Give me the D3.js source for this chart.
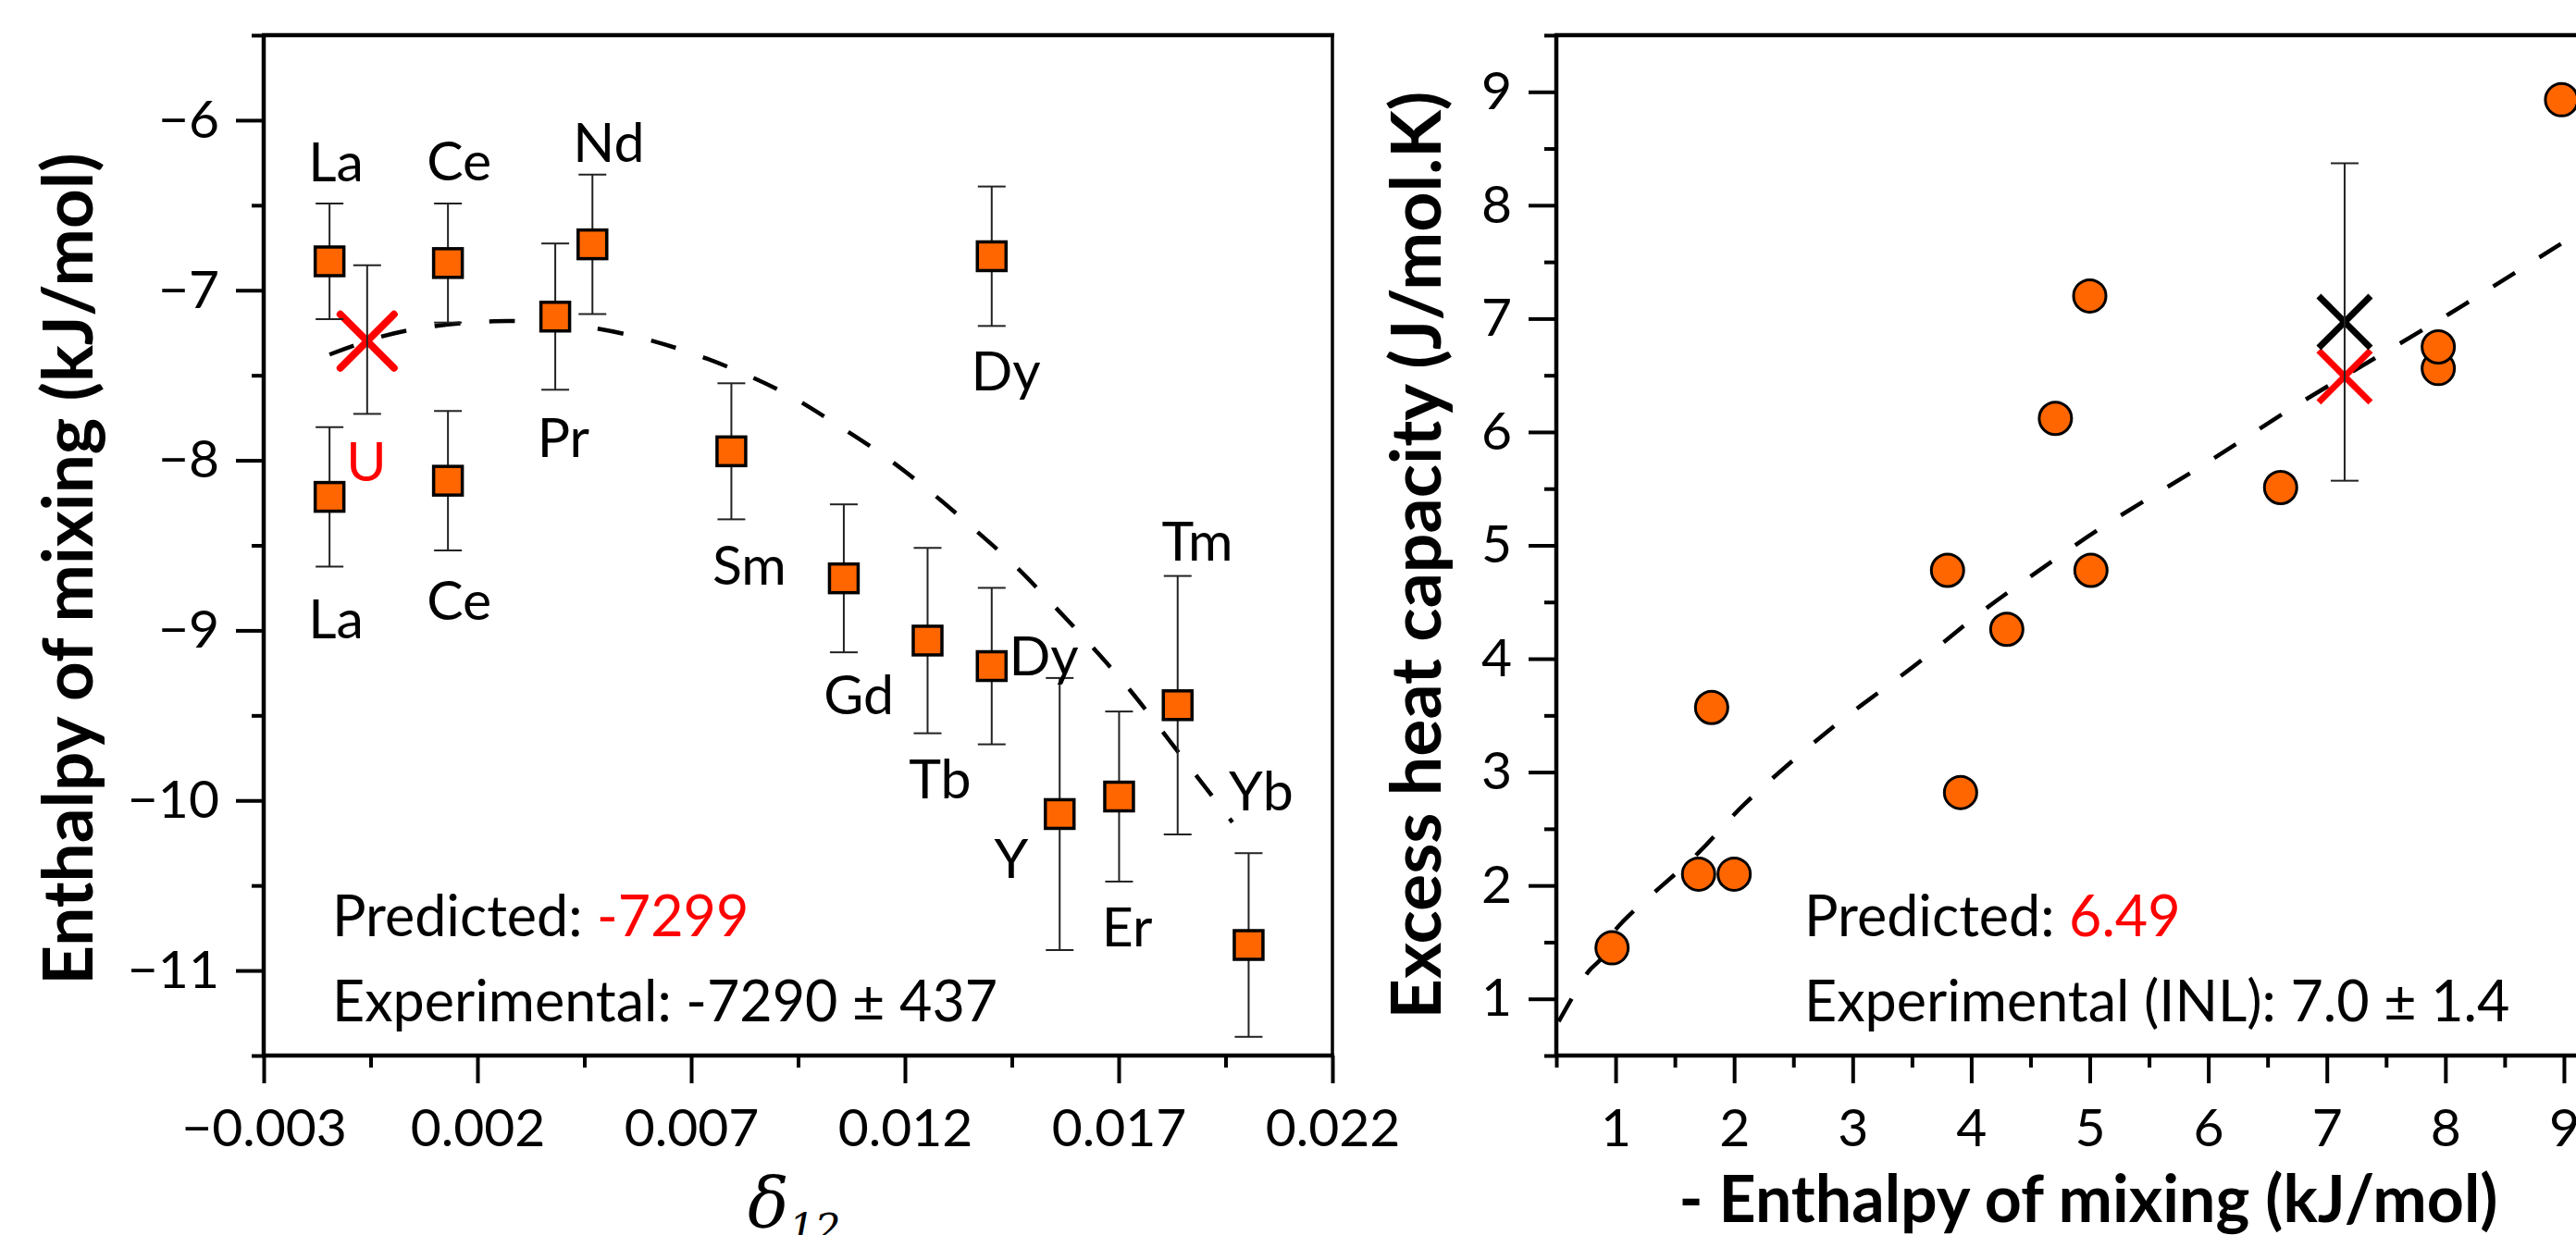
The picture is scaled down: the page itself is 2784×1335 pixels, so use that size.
<!DOCTYPE html>
<html lang="en">
<head>
<meta charset="utf-8">
<style>
  body { margin: 0; background: white; }
  svg { display: block; background: white; font-family: 'Lato', sans-serif; }
  .axis text { font-size: 57px; fill: black; font-family: 'Lato', sans-serif; }
  .axis line { stroke: black; stroke-width: 4; }
  .axis path { display: none; }
  .frame { stroke: black; stroke-width: 4.5; }
  .fit { fill: none; stroke: black; stroke-width: 4.5; stroke-dasharray: 28,31; }
  .err { stroke: #222; stroke-width: 2; }
  .lbl { font-size: 59px; fill: black; }
  .note { font-size: 61px; fill: black; }
  .title { font-weight: bold; fill: black; }
</style>
</head>
<body>
<svg width="2784" height="1335"></svg>
<script src="https://d3js.org/d3.v7.min.js"></script>
<script>
// ---- left panel: enthalpy of mixing vs delta_12 ----
const leftName = ["La","La","Ce","Ce","Pr","Nd","Sm","Gd","Tb","Dy","Dy","Y","Er","Tm","Yb"];
const leftDelta = [-0.00146,-0.00146,0.00131,0.00131,0.00382,0.00469,0.00794,0.01057,0.01253,0.01403,0.01403,0.01562,0.01701,0.01838,0.02004];
const leftEnthalpy = [-6.83,-8.215,-6.84,-8.12,-7.155,-6.73,-7.947,-8.694,-9.06,-6.80,-9.21,-10.08,-9.977,-9.44,-10.85];
const leftError = [0.34,0.41,0.35,0.41,0.43,0.41,0.40,0.435,0.545,0.41,0.46,0.80,0.50,0.76,0.54];
// where each element name sits (data units: delta, enthalpy)
const labelDelta = [-0.00131,-0.00131,0.00157,0.00157,0.00401,0.00507,0.00836,0.01092,0.01282,0.01436,0.01525,0.01449,0.0172,0.01884,0.02033];
const labelEnthalpy = [-6.36,-9.046,-6.354,-8.937,-7.98,-6.245,-8.73,-9.492,-9.987,-7.588,-9.264,-10.455,-10.86,-8.59,-10.06];

const uDelta = -0.00058, uExp = -7.29, uErr = 0.437, uPred = -7.299;
const uLabel = [-0.0006, -8.12];

const leftFitDelta = [-0.00146,-0.00021,0.00105,0.00238,0.00303,0.00423,0.00565,0.00685,0.0081,0.00931,0.01042,0.01152,0.01254,0.01356,0.01455,0.01548,0.01637,0.01724,0.01806,0.01884,0.01966];
const leftFitEnthalpy = [-7.378,-7.27,-7.209,-7.182,-7.182,-7.204,-7.269,-7.356,-7.476,-7.621,-7.792,-7.975,-8.173,-8.391,-8.614,-8.854,-9.094,-9.344,-9.606,-9.862,-10.128];

const leftXMajor = [-0.003,0.002,0.007,0.012,0.017,0.022];
const leftXMinor = [-0.0005,0.0045,0.0095,0.0145,0.0195];
const leftYMajor = [-6,-7,-8,-9,-10,-11];
const leftYMinor = [-5.5,-6.5,-7.5,-8.5,-9.5,-10.5,-11.5];

// ---- right panel: excess heat capacity vs -enthalpy ----
const heatX = [0.97,1.70,2.00,1.81,3.91,3.80,4.30,5.01,4.71,5.00,6.61,7.94,7.94,8.98];
const heatY = [1.45,2.10,2.10,3.57,2.82,4.78,4.26,4.78,6.12,7.20,5.51,6.56,6.75,8.93];
const inlX = 7.15, inlY = 6.97, inlErr = 1.4, predY = 6.49;

const rightFitX = [0.52,0.64,0.77,0.89,0.97,1.70,2.09,2.79,3.56,4.07,4.52,5.09,5.99,6.75,8.03,8.93,9.3];
const rightFitY = [0.80,1.02,1.24,1.37,1.57,2.29,2.72,3.36,3.97,4.40,4.74,5.15,5.73,6.24,7.04,7.63,7.87];

const rightXMajor = [1,2,3,4,5,6,7,8,9];
const rightXMinor = [0.5,1.5,2.5,3.5,4.5,5.5,6.5,7.5,8.5,9.5];
const rightYMajor = [1,2,3,4,5,6,7,8,9];
const rightYMinor = [0.5,1.5,2.5,3.5,4.5,5.5,6.5,7.5,8.5,9.5];

const orange = "#FF6600", red = "#FF0000";
const svg = d3.select("svg");
const plotTop = 38, plotBottom = 1141;

// scales
const xL = d3.scaleLinear().domain([-0.003, 0.022]).range([285, 1440]);
const yL = d3.scaleLinear().domain([-11.5, -5.5]).range([plotBottom, plotTop]);
const xR = d3.scaleLinear().domain([0.5, 9.5]).range([1682, 2835]);
const yR = d3.scaleLinear().domain([0.5, 9.5]).range([plotBottom, plotTop]);

function drawAxes(x, y, xMaj, xMin, yMaj, yMin, xFmt, yFmt) {
  svg.append("g").attr("class", "axis")
    .attr("transform", "translate(0," + plotBottom + ")")
    .call(d3.axisBottom(x).tickValues(xMin).tickSize(13).tickFormat(""));
  svg.append("g").attr("class", "axis")
    .attr("transform", "translate(0," + plotBottom + ")")
    .call(d3.axisBottom(x).tickValues(xMaj).tickSize(30).tickPadding(28).tickFormat(xFmt));
  svg.append("g").attr("class", "axis")
    .attr("transform", "translate(" + x.range()[0] + ",0)")
    .call(d3.axisLeft(y).tickValues(yMin).tickSize(13).tickFormat(""));
  svg.append("g").attr("class", "axis")
    .attr("transform", "translate(" + x.range()[0] + ",0)")
    .call(d3.axisLeft(y).tickValues(yMaj).tickSize(30).tickPadding(18).tickFormat(yFmt));

  const x0 = x.range()[0], x1 = x.range()[1];
  svg.append("line").attr("class", "frame").attr("x1", x0 - 2).attr("x2", x1 + 2).attr("y1", plotTop).attr("y2", plotTop);
  svg.append("line").attr("class", "frame").attr("x1", x0 - 2).attr("x2", x1 + 2).attr("y1", plotBottom).attr("y2", plotBottom);
  svg.append("line").attr("class", "frame").attr("x1", x0).attr("x2", x0).attr("y1", plotTop).attr("y2", plotBottom);
  svg.append("line").attr("class", "frame").style("stroke-width", 3.5)
    .attr("x1", x1).attr("x2", x1).attr("y1", plotTop).attr("y2", plotBottom);
}

drawAxes(xL, yL, leftXMajor, leftXMinor, leftYMajor, leftYMinor, d3.format(".3f"), d3.format("d"));
drawAxes(xR, yR, rightXMajor, rightXMinor, rightYMajor, rightYMinor, d3.format("d"), d3.format("d"));

function cross(g, cx, cy, r, color, w, cap) {
  [[-1, -1, 1, 1], [-1, 1, 1, -1]].forEach(function (s) {
    g.append("line")
      .attr("x1", cx + s[0] * r).attr("y1", cy + s[1] * r)
      .attr("x2", cx + s[2] * r).attr("y2", cy + s[3] * r)
      .attr("stroke", color).attr("stroke-width", w).attr("stroke-linecap", cap);
  });
}

function errBar(g, px, lo, hi) {
  g.append("line").attr("class", "err").attr("x1", px).attr("x2", px).attr("y1", lo).attr("y2", hi);
  [lo, hi].forEach(function (v) {
    g.append("line").attr("class", "err").attr("x1", px - 15).attr("x2", px + 15).attr("y1", v).attr("y2", v);
  });
}

// ---- left panel marks ----
const gl = svg.append("g");
const lineL = d3.line().x(function (d) { return xL(d[0]); }).y(function (d) { return yL(d[1]); }).curve(d3.curveCatmullRom);
gl.append("path").attr("class", "fit").attr("d", lineL(d3.zip(leftFitDelta, leftFitEnthalpy)));

cross(gl, xL(uDelta), yL(uPred), 29, red, 8, "round");
errBar(gl, xL(uDelta), yL(uExp - uErr), yL(uExp + uErr));

leftDelta.forEach(function (d, i) {
  errBar(gl, xL(d), yL(leftEnthalpy[i] - leftError[i]), yL(leftEnthalpy[i] + leftError[i]));
});
gl.selectAll("rect.pt").data(d3.range(leftDelta.length)).join("rect")
  .attr("class", "pt")
  .attr("x", function (i) { return xL(leftDelta[i]) - 15.5; })
  .attr("y", function (i) { return yL(leftEnthalpy[i]) - 15.5; })
  .attr("width", 31).attr("height", 31)
  .attr("fill", orange).attr("stroke", "black").attr("stroke-width", 3.5);

gl.selectAll("text.lbl").data(leftName).join("text")
  .attr("class", "lbl")
  .attr("text-anchor", "middle")
  .attr("x", function (d, i) { return xL(labelDelta[i]); })
  .attr("y", function (d, i) { return yL(labelEnthalpy[i]); })
  .text(function (d) { return d; });
gl.append("text").attr("class", "lbl").attr("text-anchor", "middle")
  .attr("x", xL(uLabel[0])).attr("y", yL(uLabel[1])).style("fill", red).text("U");

const predL = gl.append("text").attr("class", "note").attr("x", 359).attr("y", 1012);
predL.append("tspan").text("Predicted: ");
predL.append("tspan").style("fill", red).text("-7299");
gl.append("text").attr("class", "note").attr("x", 359).attr("y", 1104).text("Experimental: -7290 \u00b1 437");

// ---- right panel marks ----
const gr = svg.append("g");
const lineR = d3.line().x(function (d) { return xR(d[0]); }).y(function (d) { return yR(d[1]); }).curve(d3.curveCatmullRom);
gr.append("path").attr("class", "fit").attr("d", lineR(d3.zip(rightFitX, rightFitY)));

gr.selectAll("circle").data(d3.range(heatX.length)).join("circle")
  .attr("cx", function (i) { return xR(heatX[i]); })
  .attr("cy", function (i) { return yR(heatY[i]); })
  .attr("r", 17.5)
  .attr("fill", orange).attr("stroke", "black").attr("stroke-width", 3);

cross(gr, xR(inlX), yR(predY), 28, red, 7, "butt");
cross(gr, xR(inlX), yR(inlY), 28, "black", 7, "butt");
errBar(gr, xR(inlX), yR(inlY - inlErr), yR(inlY + inlErr));

const predR = gr.append("text").attr("class", "note").attr("x", 1950).attr("y", 1012);
predR.append("tspan").text("Predicted: ");
predR.append("tspan").style("fill", red).text("6.49");
gr.append("text").attr("class", "note").attr("x", 1950).attr("y", 1104).text("Experimental (INL): 7.0 \u00b1 1.4");

// ---- axis titles ----
function fit(sel, target) {
  const len = sel.node().getComputedTextLength();
  const fs = parseFloat(sel.style("font-size"));
  sel.style("font-size", (fs * target / len) + "px");
}
const tL = svg.append("text").attr("class", "title").attr("text-anchor", "middle")
  .attr("transform", "translate(74,615) rotate(-90)").attr("dy", "0.35em")
  .style("font-size", "56px").text("Enthalpy of mixing (kJ/mol)");
fit(tL, 900);
const tR = svg.append("text").attr("class", "title").attr("text-anchor", "middle")
  .attr("transform", "translate(1531,600) rotate(-90)").attr("dy", "0.35em")
  .style("font-size", "56px").text("Excess heat capacity (J/mol.K)");
fit(tR, 1003);
const tX = svg.append("text").attr("class", "title").attr("text-anchor", "middle")
  .attr("x", 2257).attr("y", 1321)
  .style("font-size", "56px").text("- Enthalpy of mixing (kJ/mol)");
fit(tX, 885);

const delta = svg.append("text").attr("x", 808).attr("y", 1326)
  .style("font-family", "'DejaVu Serif', serif").style("font-style", "italic").style("font-size", "74px");
delta.append("tspan").text("\u03b4");
delta.append("tspan").attr("dy", 18).style("font-size", "44px").text("12");
</script>
</body>
</html>
